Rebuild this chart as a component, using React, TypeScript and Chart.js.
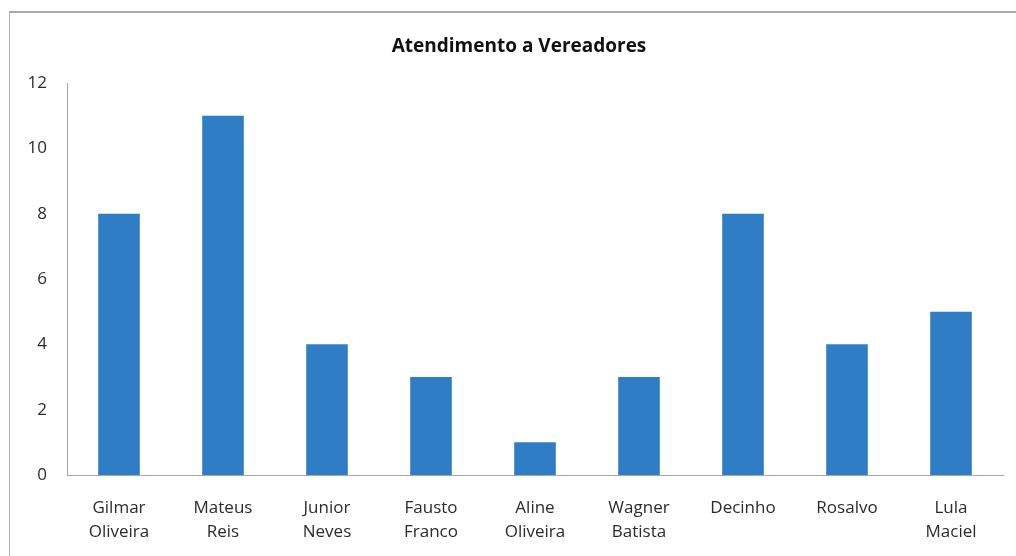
import React, { useEffect, useRef } from "react";
import { Chart, registerables } from "chart.js";

Chart.register(...registerables);

const chartTitle = "Atendimento a Vereadores";
const categories: string[][] = [
  ["Gilmar", "Oliveira"],
  ["Mateus", "Reis"],
  ["Junior", "Neves"],
  ["Fausto", "Franco"],
  ["Aline", "Oliveira"],
  ["Wagner", "Batista"],
  ["Decinho"],
  ["Rosalvo"],
  ["Lula", "Maciel"],
];
const values: number[] = [8, 11, 4, 3, 1, 3, 8, 4, 5];
const yMin = 0;
const yMax = 12;
const yStep = 2;

const FONT = "'Open Sans', 'DejaVu Sans', sans-serif";

export default function App() {
  const canvasRef = useRef<HTMLCanvasElement | null>(null);

  useEffect(() => {
    if (!canvasRef.current) return;
    const chart = new Chart(canvasRef.current, {
      type: "bar",
      data: {
        labels: categories,
        datasets: [
          {
            data: values,
            backgroundColor: "#2E7DC5",
            borderWidth: 0,
            barPercentage: 0.4,
            categoryPercentage: 1,
          },
        ],
      },
      options: {
        animation: false,
        responsive: false,
        maintainAspectRatio: false,
        layout: { padding: { left: 0, right: 13, top: 83, bottom: 0 } },
        plugins: {
          legend: { display: false },
          tooltip: { enabled: false },
          title: { display: false },
        },
        scales: {
          x: {
            grid: { display: false, drawTicks: false },
            border: { display: true, color: "#a6a6a6", width: 1 },
            ticks: {
              color: "#2b2b2b",
              font: { family: FONT, size: 17, lineHeight: 1.41 },
              padding: 21,
              maxRotation: 0,
              autoSkip: false,
            },
            afterFit: (scale: any) => {
              scale.height = 81;
            },
          },
          y: {
            min: yMin,
            max: yMax,
            grid: { display: false, drawTicks: false },
            border: { display: true, color: "#a6a6a6", width: 1 },
            ticks: {
              stepSize: yStep,
              color: "#2b2b2b",
              font: { family: FONT, size: 17 },
              padding: 20,
            },
            afterFit: (scale: any) => {
              scale.width = 67;
            },
          },
        },
      },
    });
    return () => chart.destroy();
  }, []);

  return (
    <div
      style={{
        position: "fixed",
        left: 0,
        top: 0,
        width: 1016,
        height: 556,
        background: "#ffffff",
        overflow: "hidden",
      }}
    >
      <div
        style={{
          position: "absolute",
          left: 9,
          top: 11,
          width: 1100,
          height: 700,
          borderLeft: "1px solid #b4b4b4",
          borderTop: "2px solid #a8a8a8",
        }}
      />
      <canvas
        ref={canvasRef}
        width={1016}
        height={556}
        style={{ position: "absolute", left: 0, top: 0, width: 1016, height: 556 }}
      />
      <div
        style={{
          position: "absolute",
          left: 219,
          top: 33,
          width: 600,
          textAlign: "center",
          fontFamily: FONT,
          fontSize: 19,
          fontWeight: "bold",
          lineHeight: "24px",
          color: "#111111",
        }}
      >
        {chartTitle}
      </div>
    </div>
  );
}
